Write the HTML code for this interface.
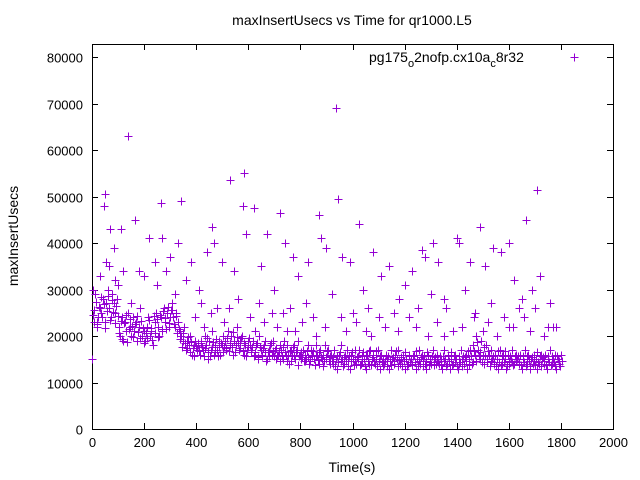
<!DOCTYPE html>
<html><head><meta charset="utf-8"><style>
body{margin:0;background:#fff}
svg{display:block;font-family:"Liberation Sans",sans-serif;font-size:13px}
</style></head><body>
<svg id="chart" width="640" height="480" xmlns="http://www.w3.org/2000/svg">
<rect width="640" height="480" fill="#fff"/>
<text x="352" y="25" text-anchor="middle" font-size="14">maxInsertUsecs vs Time for qr1000.L5</text>
<text x="352" y="472" text-anchor="middle" font-size="14">Time(s)</text>
<text transform="translate(18,236) rotate(-90)" text-anchor="middle" font-size="14">maxInsertUsecs</text>
<g id="axes"></g>
<g id="marks"></g>
<g>
<text x="369" y="62" font-size="14">pg175<tspan dy="5" font-size="11">o</tspan><tspan dy="-5">2nofp.cx10a</tspan><tspan dy="5" font-size="11">c</tspan><tspan dy="-5">8r32</tspan></text>
<path d="M570.5 57.5h8M574.5 53.5v8" stroke="#9400d3" stroke-width="1"/>
</g>
</svg>
<script>
const xTicks=[0,200,400,600,800,1000,1200,1400,1600,1800,2000];
const yTicks=[0,10000,20000,30000,40000,50000,60000,70000,80000];
const bandStart=0, bandStep=6;
const bandValues=[15,23,29,22,24,26,25,28,23,27,30,26,24,29,27,25,28,
22,20,24,19,23,21,25,22,20,24,21,23,19,22,26,20,21,
19,22,24,20,21,18,23,25,22,20,24,21,26,23,25,22,24,
27,24,22,25,23,21,20,19,22,17,19,18,20,16,18,19,17,
18,16,19,17,20,18,15,19,17,21,16,18,17,19,16,18,20,
19,17,21,18,20,16,19,18,22,17,19,20,16,18,17,19,18,
17,19,16,18,15,20,17,16,18,19,15,17,18,16,19,17,15,
16,18,17,15,19,16,18,14,17,16,18,15,17,19,16,15,17,
16,15,18,14,17,16,15,18,16,14,17,15,16,18,15,17,14,
16,14,17,15,13,16,18,15,14,16,17,15,13,16,15,17,14,
15,17,14,16,15,13,16,14,17,15,16,14,15,17,13,16,15,
14,16,15,13,17,15,14,16,15,17,14,15,16,13,15,14,16,
15,14,16,13,15,17,14,16,15,14,13,16,15,14,17,15,14,
16,14,15,13,17,15,14,16,13,15,14,16,15,13,14,17,15,
14,16,13,15,17,14,18,16,20,17,15,19,16,14,18,15,16,
17,15,14,16,15,13,17,14,16,15,13,16,14,15,17,14,16,
15,14,16,13,15,17,14,16,13,15,14,16,15,13,14,16,15,
14,16,13,15,17,14,15,16,13,15,14,16];
const band2Values=[24.5,25.7,27.3,22.6,26.2,28.4,24.1,26.8,21.7,25.3,28.6,23.4,27.7,25.2,22.8,26.4,24.3,
20.6,23.3,19.4,22.7,24.6,18.8,21.4,23.6,22.2,19.7,22.5,24.4,20.8,19.6,23.2,21.7,18.6,
20.7,19.5,23.4,21.8,19.2,24.3,20.6,23.7,19.8,24.6,21.5,25.4,23.8,21.6,26.3,22.7,25.5,
25.6,22.6,24.2,20.7,21.6,19.4,17.7,20.6,18.6,17.4,19.7,16.6,18.7,17.5,15.6,17.8,18.6,
16.7,18.5,17.6,15.8,17.4,19.6,16.5,15.7,17.6,18.8,16.6,19.4,15.6,17.7,18.4,16.5,17.6,
17.4,19.6,16.7,18.5,17.6,20.8,16.5,19.7,18.5,17.4,19.6,16.7,18.5,15.7,17.6,19.5,16.6,
17.6,15.7,16.5,18.6,15.5,17.6,15.8,17.5,16.6,14.7,16.5,15.6,18.6,16.7,15.6,17.5,15.7,
16.5,14.6,15.7,17.6,16.5,14.7,15.6,16.8,14.6,17.7,15.6,16.5,13.8,15.7,16.6,15.5,14.6,
14.6,16.8,15.5,14.7,15.6,16.7,13.7,15.6,14.8,16.6,15.5,13.6,14.7,15.5,16.8,14.6,15.7,
14.6,15.5,13.6,15.7,14.5,16.6,14.7,13.6,15.5,14.7,13.6,15.8,14.6,16.5,13.7,14.6,15.5,
15.6,13.7,14.6,16.5,13.6,15.7,14.6,16.8,13.7,15.5,14.6,16.7,13.5,14.6,15.7,14.5,13.6,
14.6,13.5,15.7,14.6,13.7,15.5,14.6,16.7,13.6,14.8,15.5,13.6,14.7,16.5,13.6,15.7,14.5,
13.7,15.6,14.5,16.8,13.6,14.7,15.5,13.6,15.7,14.6,16.5,13.7,14.5,15.6,13.7,15.5,14.6,
14.5,15.6,13.7,15.8,14.6,13.5,15.7,14.6,16.6,13.7,15.8,14.5,13.6,15.7,14.5,13.6,15.8,
15.5,14.6,16.8,13.7,15.6,14.5,16.7,14.6,18.8,15.7,16.6,14.5,17.7,15.6,14.5,16.7,13.6,
14.6,15.7,14.5,13.6,16.7,14.5,13.7,15.6,14.5,16.8,13.6,14.7,15.6,14.5,13.7,15.8,14.6,
15.6,14.5,13.7,15.6,14.5,13.6,15.8,14.7,13.6,15.5,14.6,13.7,16.6,14.5,15.7,13.6,15.5,
14.6,13.7,15.6,14.5,13.7,15.6,14.5,13.6,15.8,14.6,13.5,14.7];
const outlierTimes=[5,20,45,50,55,65,70,85,100,110,120,140,165,180,200,220,240,265,270,285,300,330,340,360,380,410,440,460,470,500,530,545,580,585,590,620,650,670,700,720,740,770,790,830,870,880,900,935,945,960,990,1025,1040,1080,1110,1140,1180,1200,1230,1265,1280,1310,1330,1350,1400,1410,1450,1490,1510,1540,1570,1600,1620,1650,1665,1690,1710,1720,1760,1780,
30,90,150,250,320,420,480,560,640,690,760,820,850,920,1000,1060,1100,1160,1250,1300,1360,1430,1470,1530,1580,1640,1700,1750,750,1050,1350,1600,
395,430,455,505,525,555,605,625,660,710,735,780,805,860,895,955,975,1015,1070,1125,1175,1215,1245,1290,1325,1385,1420,1465,1500,1520,1555,1615,1660,1680,1735,1770];
const outlierValues=[30,23,48,50.5,36,35,43,39,31,43,34,63,45,34,33,41,36,48.5,41,34,37,40,49,32,36,30,38,43.5,40,36,53.5,34,48,55,42,47.5,35,42,30,46.5,40,37,33,36,46,41,39,69,49.5,37,36,44,30,38,33,35,28,31,34,38.5,37,40,36,28,41,40,36,43.5,35,39,38,40,32,28,45,30,51.5,33,27,22,
33,32,27,31,29,27,26,28,27,25,26,27,24,29,25,26,24,25,26,29,26,30,25,27,24,26,26,22,21,21,20,22,
24,22,25,23,26,22,24,21,23,22,25,21,23,20,22,24,21,23,20,22,21,24,22,20,23,21,22,24,21,23,20,22,24,21,20,22];

const L=92,R=613,T=44,B=429;
const YMAX=82800;
const xs=v=>L+(v-0)/2000*(R-L);
const ys=v=>B-(v-0)/YMAX*(B-T);
const NS="http://www.w3.org/2000/svg";
const axes=document.getElementById('axes');
const marks=document.getElementById('marks');
function mk(tag,attrs,parent){const e=document.createElementNS(NS,tag);for(const k in attrs)e.setAttribute(k,attrs[k]);parent.appendChild(e);return e;}
const frame=mk('rect',{x:L+.5,y:T+.5,width:R-L,height:B-T,fill:'none',stroke:'#000','stroke-width':1},axes);


xTicks.forEach(t=>{const x=Math.round(xs(t))+.5;
 const p=mk('path',{d:`M${x} ${B}v-6M${x} ${T}v6`,stroke:'#000'},axes);
 
 
 const tx=mk('text',{x:x,y:B+18,'text-anchor':'middle'},axes);tx.textContent=t;
 
 });
yTicks.forEach(t=>{const y=Math.round(ys(t))+.5;
 const p=mk('path',{d:`M${L} ${y}h6M${R} ${y}h-6`,stroke:'#000'},axes);
 
 
 const tx=mk('text',{x:L-9,y:y+5,'text-anchor':'end'},axes);tx.textContent=t;
 
 });
let d='';
function plus(t,v){const x=Math.round(xs(t))+.5,y=Math.round(ys(v))+.5;d+=`M${x-4} ${y}h8M${x} ${y-4}v8`;}
bandValues.forEach((v,i)=>plus(bandStart+i*bandStep,v*1000));
band2Values.forEach((v,i)=>plus(bandStart+3+i*bandStep,v*1000));
outlierTimes.forEach((t,i)=>plus(t,outlierValues[i]*1000));
const path=mk('path',{d:d,stroke:'#9400d3','stroke-width':1,fill:'none'},marks);


</script>
</body></html>
